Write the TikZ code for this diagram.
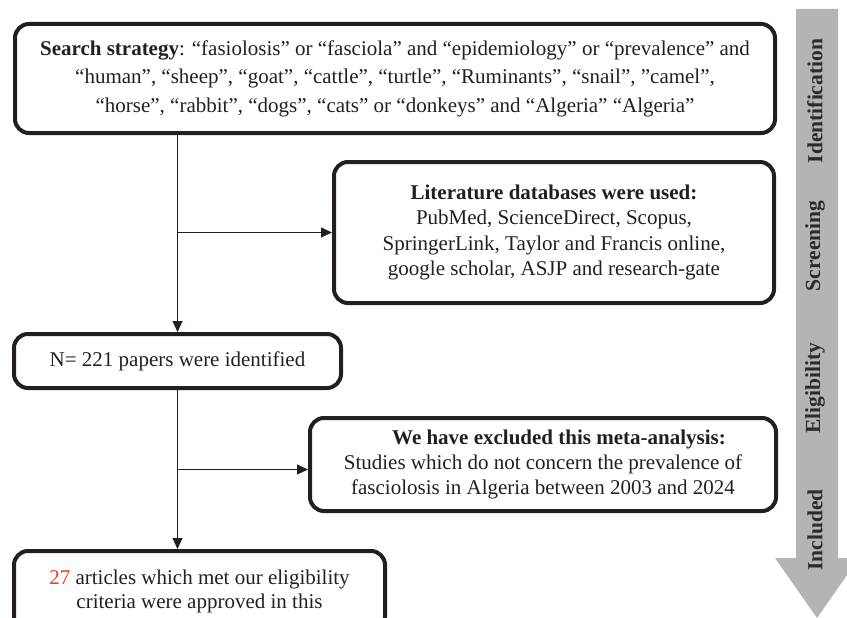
\documentclass[tikz,border=0pt]{standalone}
\usepackage{fontspec}
\setmainfont{Liberation Serif}
\usetikzlibrary{arrows.meta}
\definecolor{boxline}{HTML}{231F20}
\definecolor{bargray}{HTML}{B4B4B4}
\definecolor{numred}{HTML}{EE3B24}
\definecolor{labeltext}{HTML}{2B2B2B}
\begin{document}
\begin{tikzpicture}[x=1pt,y=-1pt,
  flowbox/.style={draw=boxline,line width=4pt,rounded corners=14pt,inner sep=0pt,align=center,text=boxline},
  link/.style={draw=boxline,line width=1.1pt,-{Triangle[length=11pt,width=10pt]}},
  stagelabel/.style={rotate=90,font=\bfseries\fontsize{21.5}{23}\selectfont,text=labeltext,inner sep=0pt}]
\useasboundingbox (0,0) rectangle (847,618);
\clip (0,0) rectangle (847,618);
% stage arrow
\fill[bargray] (796,9) -- (838,9) -- (838,558) -- (859,558) -- (817,618) -- (775,558) -- (796,558) -- cycle;
\node[stagelabel] (sid) at (815,101) {Identification};
\node[stagelabel] (ssc) at (815,246) {Screening};
\node[stagelabel] (sel) at (815,388) {Eligibility};
\node[stagelabel] (sin) at (815,530) {Included};
% boxes
\node[flowbox,minimum width=760pt,minimum height=109pt,font=\fontsize{21}{28.5}\selectfont] (top) at (395,78.5)
  {\textbf{Search strategy}: “fasiolosis” or “fasciola” and “epidemiology” or “prevalence” and\\
   “human”, “sheep”, “goat”, “cattle”, “turtle”, “Ruminants”, “snail”, ”camel”,\\
   “horse”, “rabbit”, “dogs”, “cats” or “donkeys” and “Algeria” “Algeria”};
\node[flowbox,minimum width=440pt,minimum height=141pt,font=\fontsize{21}{25.5}\selectfont] (lit) at (554,232.5)
  {\textbf{Literature databases were used:}\\
   PubMed, ScienceDirect, Scopus,\\
   SpringerLink, Taylor and Francis online,\\
   google scholar, ASJP and research-gate};
\node[flowbox,minimum width=327pt,minimum height=54pt,font=\fontsize{21}{25}\selectfont] (nid) at (177.5,361)
  {N= 221 papers were identified};
\node[flowbox,minimum width=466pt,minimum height=93pt,font=\fontsize{21}{25}\selectfont] (excl) at (543,464.5)
  {\hspace*{32pt}\textbf{We have excluded this meta-analysis:}\\
   Studies which do not concern the prevalence of\\
   fasciolosis in Algeria between 2003 and 2024};
\node[flowbox,minimum width=371pt,minimum height=80pt,font=\fontsize{21}{24}\selectfont] (incl) at (199.5,591)
  {{\color{numred}27} articles which met our eligibility\\
   criteria were approved in this};
% connectors
\draw[link] (nid.north |- top.south) -- (nid.north);
\draw[link] (nid.north |- lit.west) -- (lit.west);
\draw[link] (nid.south) -- (nid.south |- incl.north);
\draw[link] ([yshift=-5pt]excl.west -| nid.south) -- ([yshift=-5pt]excl.west);
\end{tikzpicture}
\end{document}
